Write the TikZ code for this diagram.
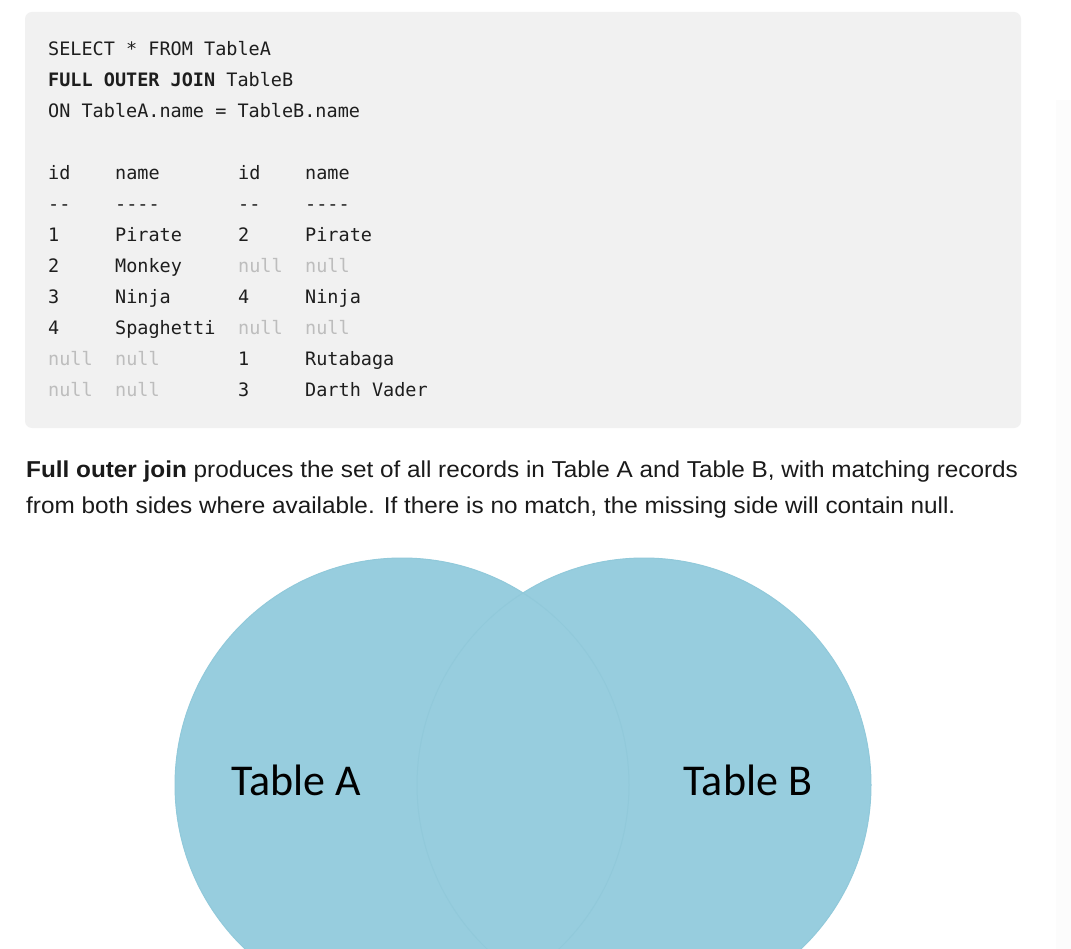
\documentclass[tikz,border=0pt]{standalone}
\usepackage{fontspec}
\setmainfont{Liberation Sans}
\newfontfamily\parafont[FakeStretch=1.057]{Liberation Sans}
\newfontfamily\codefont{DejaVu Sans Mono}
\newfontfamily\vennfont{Carlito}
\definecolor{codebg}{HTML}{F1F1F1}
\definecolor{codetext}{HTML}{1E1E1E}
\definecolor{nullgray}{HTML}{BDBDBD}
\definecolor{vennblue}{HTML}{97CDDE}
\definecolor{vennedge}{HTML}{91C9DA}
\definecolor{sidebar}{HTML}{FCFCFC}
\definecolor{paratext}{HTML}{1A1A1A}
\begin{document}
\begin{tikzpicture}[x=1pt,y=-1pt,
  code/.style={anchor=base west, inner sep=0pt, text=codetext, font=\codefont\fontsize{18.5}{22}\selectfont},
  nullc/.style={code, text=nullgray},
  para/.style={anchor=base west, inner sep=0pt, text=paratext, font=\parafont\fontsize{23}{27}\selectfont},
  venntext/.style={anchor=base, inner sep=0pt, text=black, font=\vennfont\fontsize{44}{50}\selectfont}]
\useasboundingbox (0,0) rectangle (1071,949);
\clip (0,0) rectangle (1071,949);
\fill[white] (0,0) rectangle (1071,949);
\fill[sidebar] (1056,100) rectangle (1071,949);
% code block
\fill[codebg, rounded corners=7pt] (25,12) rectangle (1021,428);
\node[code] (q1) at (48,56) {SELECT * FROM TableA};
\node[code] (q2) at (48,87) {\textbf{FULL OUTER JOIN} TableB};
\node[code] (q3) at (48,118) {ON TableA.name = TableB.name};
% header
\node[code] (h1) at (48,180) {id};
\node[code] (h2) at (115,180) {name};
\node[code] (h3) at (238,180) {id};
\node[code] (h4) at (305,180) {name};
\node[code] (d1) at (48,211) {-{}-};
\node[code] (d2) at (115,211) {-{}-{}-{}-};
\node[code] (d3) at (238,211) {-{}-};
\node[code] (d4) at (305,211) {-{}-{}-{}-};
% rows
\node[code] (r1a) at (48,242) {1};
\node[code] (r1b) at (115,242) {Pirate};
\node[code] (r1c) at (238,242) {2};
\node[code] (r1d) at (305,242) {Pirate};
\node[code] (r2a) at (48,273) {2};
\node[code] (r2b) at (115,273) {Monkey};
\node[nullc] (r2c) at (238,273) {null};
\node[nullc] (r2d) at (305,273) {null};
\node[code] (r3a) at (48,304) {3};
\node[code] (r3b) at (115,304) {Ninja};
\node[code] (r3c) at (238,304) {4};
\node[code] (r3d) at (305,304) {Ninja};
\node[code] (r4a) at (48,335) {4};
\node[code] (r4b) at (115,335) {Spaghetti};
\node[nullc] (r4c) at (238,335) {null};
\node[nullc] (r4d) at (305,335) {null};
\node[nullc] (r5a) at (48,366) {null};
\node[nullc] (r5b) at (115,366) {null};
\node[code] (r5c) at (238,366) {1};
\node[code] (r5d) at (305,366) {Rutabaga};
\node[nullc] (r6a) at (48,397) {null};
\node[nullc] (r6b) at (115,397) {null};
\node[code] (r6c) at (238,397) {3};
\node[code] (r6d) at (305,397) {Darth Vader};
% paragraph
\node[para] (p1) at (26,477) {\textbf{Full outer join} produces the set of all records in Table A and Table B, with matching records};
\node[para] (p2) at (26,513) {from both sides where available. If there is no match, the missing side will contain null.};
% venn
\fill[vennblue] (402,785) circle (227);
\fill[vennblue] (644,785) circle (227);
\draw[vennedge, line width=1pt] (402,785) circle (227);
\draw[vennedge, line width=1pt] (644,785) circle (227);
\node[venntext] (ta) at (296,795) {Table A};
\node[venntext] (tb) at (748,795) {Table B};
\end{tikzpicture}
\end{document}
